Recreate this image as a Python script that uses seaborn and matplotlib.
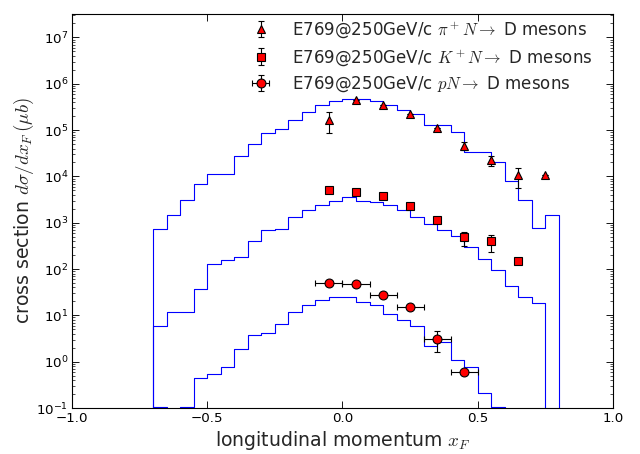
import matplotlib
matplotlib.use("Agg")
import matplotlib.pyplot as plt
import seaborn as sns

# histogram bins (left edges), last edge 0.8
bin_left = [-0.70, -0.65, -0.60, -0.55, -0.50, -0.45, -0.40, -0.35, -0.30, -0.25,
            -0.20, -0.15, -0.10, -0.05, 0.00, 0.05, 0.10, 0.15, 0.20, 0.25,
            0.30, 0.35, 0.40, 0.45, 0.50, 0.55, 0.60, 0.65, 0.70, 0.75]
last_edge = 0.80

pi_hist = [740, 1480, 3160, 6900, 11500, 11500, 28000, 49500, 87000, 105000,
           165000, 251000, 355000, 415000, 465000, 460000, 415000, 345000, 277000, 227000,
           129000, 129000, 89000, 33500, 33000, 20500, 7800, 3150, 760, 1500]
k_hist = [5.9, 12, 12, 37, 130, 158, 185, 395, 705, 740,
          1320, 1850, 2450, 2930, 3570, 2930, 2850, 2450, 1850, 1320,
          950, 705, 505, 297, 166, 96, 44, 25, 18.6, 0]
p_hist = [0.107, 0, 0.107, 0.44, 0.54, 0.76, 1.86, 3.7, 4.2, 6.6,
          12, 17, 21, 25.5, 25, 19, 17, 10.8, 8.1, 5.8,
          2.2, 2.6, 1.1, 0.76, 0.21, 0.105, 0, 0, 0, 0]

# E769 data points
pi_x = [-0.05, 0.05, 0.15, 0.25, 0.35, 0.45, 0.55, 0.65, 0.75]
pi_y = [169000, 450000, 355000, 219000, 112000, 45500, 22400, 10500, 10500]
pi_lo = [88500, 450000, 355000, 219000, 112000, 38000, 16700, 5700, 10500]
pi_hi = [246000, 450000, 355000, 219000, 112000, 55000, 27000, 15500, 10500]

k_x = [-0.05, 0.05, 0.15, 0.25, 0.35, 0.45, 0.55, 0.65]
k_y = [5000, 4520, 3700, 2240, 1120, 490, 395, 148]
k_lo = [5000, 4520, 3700, 2240, 1120, 310, 230, 148]
k_hi = [5000, 4520, 3700, 2240, 1120, 630, 550, 148]

p_x = [-0.05, 0.05, 0.15, 0.25, 0.35, 0.45]
p_y = [50.5, 46.5, 28, 15, 3.1, 0.61]
p_lo = [50.5, 46.5, 28, 15, 1.65, 0.61]
p_hi = [50.5, 46.5, 28, 15, 4.5, 0.61]
p_xerr = [0.05, 0.05, 0.05, 0.05, 0.05, 0.05]

sns.set_style("ticks")
plt.rcParams.update({
    "font.family": ["DejaVu Sans"],
    "mathtext.fontset": "cm",
    "xtick.direction": "in", "ytick.direction": "in",
    "xtick.top": True, "ytick.right": True,
    "xtick.major.size": 6, "ytick.major.size": 6,
    "ytick.minor.size": 3, "xtick.labelsize": 12, "ytick.labelsize": 12,
    "axes.edgecolor": "black", "axes.linewidth": 1.0,
    "xtick.color": "black", "ytick.color": "black",
})

fig = plt.figure(figsize=(8, 5.675), dpi=80)
ax = fig.add_axes([0.1125, 0.1013, 0.8453, 0.8678])

edges = bin_left + [last_edge]
for hist in (pi_hist, k_hist, p_hist):
    xs = [edges[0]] + edges
    ys = [0] + hist + [0]
    sns.lineplot(x=xs, y=ys, ax=ax, color="blue", linewidth=1,
                 drawstyle="steps-post", sort=False, estimator=None)

def err(y, lo, hi):
    return [[a - b for a, b in zip(y, lo)], [b - a for a, b in zip(y, hi)]]

h1 = ax.errorbar(pi_x, pi_y, yerr=err(pi_y, pi_lo, pi_hi), fmt="^", color="red",
                 mec="black", ecolor="black", ms=8, capsize=3, elinewidth=1,
                 label=r"E769@250GeV/c $\pi^+ N\rightarrow$ D mesons")
h2 = ax.errorbar(k_x, k_y, yerr=err(k_y, k_lo, k_hi), fmt="s", color="red",
                 mec="black", ecolor="black", ms=7.5, capsize=3, elinewidth=1,
                 label=r"E769@250GeV/c $K^+ N\rightarrow$ D mesons")
h3 = ax.errorbar(p_x, p_y, xerr=p_xerr, yerr=err(p_y, p_lo, p_hi), fmt="o", color="red",
                 mec="black", ecolor="black", ms=8, capsize=3, elinewidth=1,
                 label=r"E769@250GeV/c $pN\rightarrow$ D mesons")

ax.set_yscale("log")
ax.set_xlim(-1.0, 1.0)
ax.set_ylim(0.1, 3.2e7)
ax.set_xticks([-1.0, -0.5, 0.0, 0.5, 1.0])
ax.set_xticklabels(["\u22121.0", "\u22120.5", "0.0", "0.5", "1.0"])
ax.set_xlabel(r"longitudinal momentum $x_F$", fontsize=17)
ax.set_ylabel(r"cross section $d\sigma/dx_F\,(\mu b)$", fontsize=17, labelpad=0)

ax.legend(handles=[h1, h2, h3], loc="upper right", bbox_to_anchor=(0.975, 1.003),
          frameon=False, numpoints=1, fontsize=15, handletextpad=0.9,
          borderaxespad=0.0, labelspacing=0.42)

plt.savefig("out.png", dpi=80)
